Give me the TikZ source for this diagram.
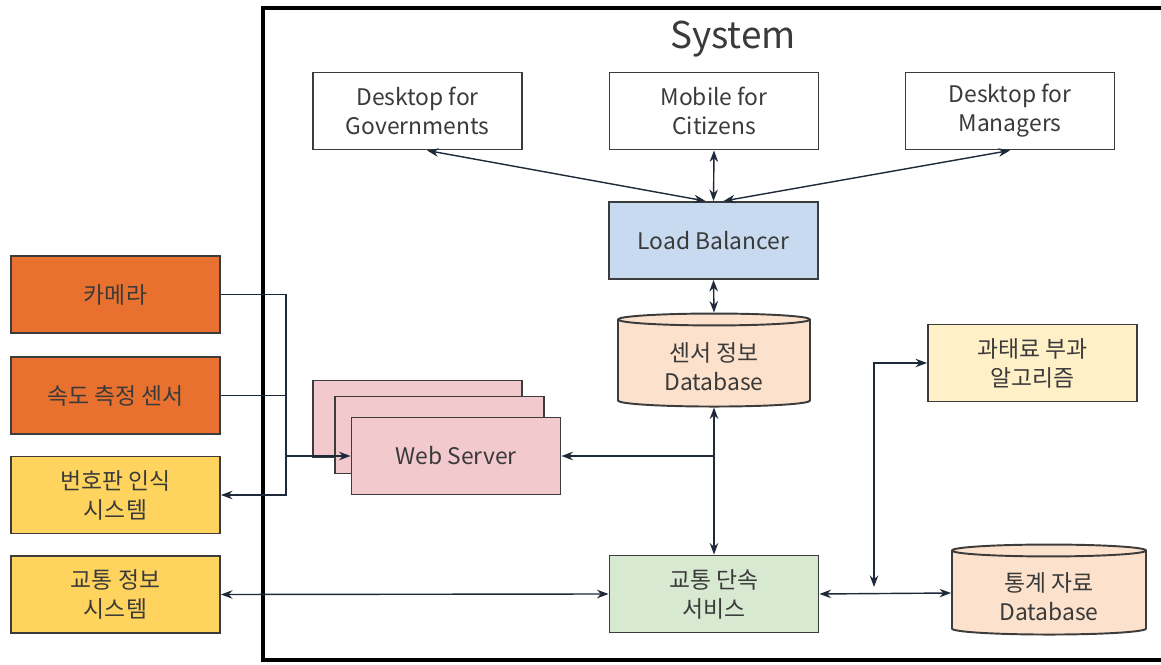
\documentclass[tikz,border=0pt]{standalone}
\usepackage{fontspec}
\setmainfont{Noto Sans CJK KR}
\usetikzlibrary{shapes.geometric,arrows.meta}

\definecolor{randfarbe}{HTML}{3C3C3C}
\definecolor{linienfarbe}{HTML}{1E2A3A}
\definecolor{textfarbe}{HTML}{3A3A3A}
\definecolor{orange1}{HTML}{E9712F}
\definecolor{gelb1}{HTML}{FFD45E}
\definecolor{gelb2}{HTML}{FFF0C8}
\definecolor{blau1}{HTML}{C7DAF0}
\definecolor{rosa1}{HTML}{F2C9CC}
\definecolor{pfirsich}{HTML}{FCE2CC}
\definecolor{gruen1}{HTML}{D8E9D2}

\tikzset{
	kasten/.style={draw=randfarbe, line width=1.1pt, minimum width=4.18cm, minimum height=1.54cm,
		inner sep=0pt, align=center, text=textfarbe, font=\fontsize{13}{16.5}\selectfont},
	datenbank/.style={cylinder, shape border rotate=90, aspect=0.12, draw=randfarbe, line width=1.1pt,
		cylinder uses custom fill, cylinder body fill=pfirsich, cylinder end fill=pfirsich,
		inner sep=0pt, align=center, text=textfarbe, font=\fontsize{13}{16.5}\selectfont},
	verbindung/.style={draw=linienfarbe, line width=0.8pt, >={Stealth[length=2.3mm,width=1.7mm]}},
}

\begin{document}
\begin{tikzpicture}
	\useasboundingbox (0,0) rectangle (23.22,13.28);
	\draw [line width=2.1pt] (23.4,13.12) -- (5.26,13.12) -- (5.26,0.08) -- (23.4,0.08);%Systemrahmen
	\node (titel) at (14.66,12.5) {\fontsize{21}{24}\selectfont\color{textfarbe}System};

	\node[kasten] (gov) at (8.35,11.06) {Desktop for\\Governments};
	\node[kasten] (mob) at (14.28,11.06) {Mobile for\\Citizens};
	\node[kasten] (mgr) at (20.2,11.06) {Desktop for\\Managers};
	\node[kasten, fill=blau1] (lb) at (14.27,8.47) {Load Balancer};
	\node[datenbank, minimum width=3.84cm, minimum height=1.86cm] (sdb) at (14.28,6.01) {\\[-2pt]센서 정보\\Database};
	\node[kasten, fill=gelb2] (fine) at (20.65,6.02) {과태료 부과\\알고리즘};

	\node[kasten, fill=rosa1] (ws3) at (8.35,4.9) {};%hinterer Server
	\node[kasten, fill=rosa1] (ws2) at (8.79,4.58) {};%mittlerer Server
	\node[kasten, fill=rosa1] (ws) at (9.12,4.16) {Web Server};

	\node[kasten, fill=gruen1] (enf) at (14.28,1.4) {교통 단속\\서비스};
	\node[datenbank, minimum width=3.88cm, minimum height=1.8cm] (stdb) at (20.98,1.42) {\\[-2pt]통계 자료\\Database};

	\node[kasten, fill=orange1] (cam) at (2.31,7.39) {카메라};
	\node[kasten, fill=orange1] (spd) at (2.31,5.37) {속도 측정 센서};
	\node[kasten, fill=gelb1] (lpr) at (2.31,3.38) {번호판 인식\\시스템};
	\node[kasten, fill=gelb1] (tis) at (2.31,1.39) {교통 정보\\시스템};

	\coordinate (bus) at (5.72,0);%Sammelleitung links
	\coordinate (jn) at (17.48,1.4);%Abzweig rechts

	\draw[verbindung,<->] ([xshift=0.19cm]gov.south) -- ([xshift=-0.16cm]lb.north);
	\draw[verbindung,<->] (mob.south) -- (lb.north);
	\draw[verbindung,<->] (mgr.south) -- ([xshift=0.2cm]lb.north);
	\draw[verbindung,<->] (lb.south) -- (sdb.north);
	\draw[verbindung,<->] (sdb.south) -- (enf.north);
	\draw[verbindung,->] (sdb.south |- ws.east) -- (ws.east);

	\draw[verbindung] (cam.east) -- (cam.east -| bus);
	\draw[verbindung] (spd.east) -- (spd.east -| bus);
	\draw[verbindung,->] (cam.east -| bus) -- (lpr.east -| bus) -- (lpr.east);
	\draw[verbindung,->] (ws.west -| bus) -- (ws.west);

	\draw[verbindung,<->] (tis.east) -- (enf.west);
	\draw[verbindung,<->] (enf.east) -- (stdb.west);
	\draw[verbindung,<->, shorten <=0.14cm] (jn) |- (fine.west);
\end{tikzpicture}
\end{document}
